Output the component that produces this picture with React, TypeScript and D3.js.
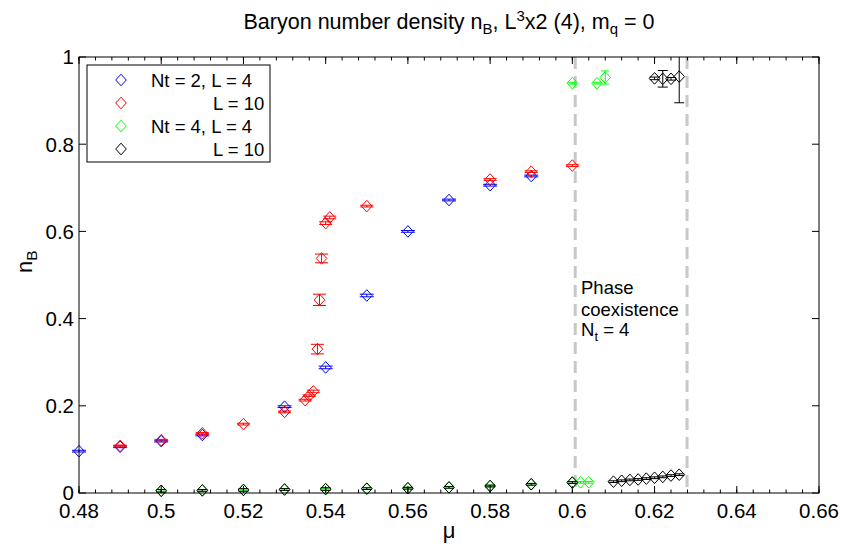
import React from 'react';
import * as d3 from 'd3';

// ---- data ----
const muBlue = [0.48, 0.49, 0.5, 0.51, 0.53, 0.54, 0.55, 0.56, 0.57, 0.58, 0.59];
const nBlue = [0.096, 0.106, 0.119, 0.133, 0.198, 0.288, 0.453, 0.6, 0.672, 0.706, 0.727];
const eBlue = [0.002, 0.002, 0.002, 0.002, 0.002, 0.003, 0.003, 0.002, 0.002, 0.002, 0.002];

const muRed = [0.49, 0.5, 0.51, 0.52, 0.53, 0.535, 0.536, 0.537, 0.538, 0.5385, 0.539, 0.54, 0.541, 0.55, 0.58, 0.59, 0.6];
const nRed = [0.108, 0.121, 0.137, 0.158, 0.186, 0.213, 0.223, 0.233, 0.33, 0.443, 0.538, 0.619, 0.632, 0.658, 0.719, 0.737, 0.751];
const eRed = [0.002, 0.002, 0.002, 0.002, 0.002, 0.002, 0.002, 0.003, 0.011, 0.013, 0.01, 0.003, 0.003, 0.002, 0.002, 0.002, 0.002];

const muGreen = [0.5, 0.51, 0.52, 0.53, 0.54, 0.55, 0.56, 0.57, 0.58, 0.59, 0.6, 0.602, 0.604, 0.6, 0.606, 0.608];
const nGreen = [0.005, 0.006, 0.007, 0.008, 0.009, 0.01, 0.011, 0.013, 0.016, 0.02, 0.024, 0.0245, 0.0245, 0.94, 0.94, 0.953];
const eGreen = [0.002, 0.002, 0.002, 0.002, 0.002, 0.002, 0.002, 0.002, 0.002, 0.002, 0.002, 0.002, 0.002, 0.002, 0.002, 0.015];

const muBlack = [0.5, 0.51, 0.52, 0.53, 0.54, 0.55, 0.56, 0.57, 0.58, 0.59, 0.6,
  0.61, 0.612, 0.614, 0.616, 0.618, 0.62, 0.622, 0.624, 0.626,
  0.62, 0.622, 0.624, 0.626];
const nBlack = [0.005, 0.006, 0.007, 0.008, 0.009, 0.01, 0.011, 0.013, 0.016, 0.02, 0.024,
  0.026, 0.028, 0.03, 0.031, 0.033, 0.035, 0.037, 0.04, 0.042,
  0.951, 0.95, 0.95, 0.955];
const eBlack = [0.003, 0.002, 0.003, 0.002, 0.003, 0.002, 0.002, 0.002, 0.002, 0.002, 0.002,
  0.002, 0.002, 0.002, 0.002, 0.002, 0.002, 0.002, 0.002, 0.002,
  0.003, 0.019, 0.003, 0.06];

const legendLabels = ['Nt = 2, L = 4', 'L = 10', 'Nt = 4, L = 4', 'L = 10'];
const xTickLabels = ['0.48', '0.5', '0.52', '0.54', '0.56', '0.58', '0.6', '0.62', '0.64', '0.66'];
const yTickLabels = ['0', '0.2', '0.4', '0.6', '0.8', '1'];
const coexistBounds = [0.6007, 0.6279];

const W = 842, H = 544;
const M = { left: 79, right: 819, top: 57, bottom: 493 };
const FONT = '"Liberation Sans", Arial, Helvetica, sans-serif';

export default function App() {
  const x = d3.scaleLinear().domain([0.48, 0.66]).range([M.left, M.right]);
  const y = d3.scaleLinear().domain([0, 1]).range([M.bottom, M.top]);

  const series = [
    { mu: muBlue, n: nBlue, e: eBlue, color: '#0000ff', cap: 7 },
    { mu: muRed, n: nRed, e: eRed, color: '#ff0000', cap: 6.5 },
    { mu: muGreen, n: nGreen, e: eGreen, color: '#00ff00', cap: 4 },
    { mu: muBlack, n: nBlack, e: eBlack, color: '#000000', cap: 5 },
  ];

  const dw = 5.3, dh = 5.8;
  const diamond = (cx: number, cy: number, w = dw, h = dh) =>
    `M${cx},${cy - h}L${cx + w},${cy}L${cx},${cy + h}L${cx - w},${cy}Z`;

  const majorX = xTickLabels.map((t) => +t);
  const minorX = d3.range(0, 46).map((i) => 0.48 + i * 0.004).filter((v) => v <= 0.6601);
  const majorY = yTickLabels.map((t) => +t);

  return (
    <svg width={W} height={H} style={{ position: 'fixed', left: 0, top: 0, background: '#fff' }}
      fontFamily={FONT}>
      <rect x={0} y={0} width={W} height={H} fill="#fff" />
      {/* title */}
      <text x={(M.left + M.right) / 2} y={29} fontSize={21.5} textAnchor="middle" fill="#000">
        Baryon number density n<tspan fontSize={15} dy={5}>B</tspan>
        <tspan dy={-5}>, L</tspan>
        <tspan fontSize={15} dy={-8}>3</tspan>
        <tspan dy={8}>x2 (4), m</tspan>
        <tspan fontSize={15} dy={5}>q</tspan>
        <tspan dy={-5}> = 0</tspan>
      </text>

      {/* dashed coexistence lines */}
      {coexistBounds.map((b, i) => (
        <line key={'d' + i} x1={x(b)} x2={x(b)} y1={y(1)} y2={y(0)} stroke="#c8c8c8"
          strokeWidth={3} strokeDasharray="12,7" />
      ))}

      {/* data */}
      {series.map((s, si) => (
        <g key={'s' + si} stroke={s.color} fill="none" strokeWidth={1}>
          {s.mu.map((m, i) => {
            const cx = x(m), cy = y(s.n[i]);
            const y1 = Math.max(y(s.n[i] + s.e[i]), M.top);
            const y2 = y(s.n[i] - s.e[i]);
            return (
              <g key={i}>
                <line x1={cx} x2={cx} y1={y1} y2={y2} />
                {y(s.n[i] + s.e[i]) >= M.top && (
                  <line x1={cx - s.cap} x2={cx + s.cap} y1={y1} y2={y1} />
                )}
                <line x1={cx - s.cap} x2={cx + s.cap} y1={y2} y2={y2} />
                <path d={diamond(cx, cy)} />
              </g>
            );
          })}
        </g>
      ))}

      {/* axes box */}
      <rect x={M.left} y={M.top} width={M.right - M.left} height={M.bottom - M.top}
        fill="none" stroke="#000" strokeWidth={1} />
      {/* x ticks */}
      <g stroke="#000" strokeWidth={1}>
        {minorX.map((v, i) => (
          <g key={'mx' + i}>
            <line x1={x(v)} x2={x(v)} y1={M.bottom} y2={M.bottom - 3.5} />
            <line x1={x(v)} x2={x(v)} y1={M.top} y2={M.top + 3.5} />
          </g>
        ))}
        {majorX.map((v, i) => (
          <g key={'Mx' + i}>
            <line x1={x(v)} x2={x(v)} y1={M.bottom} y2={M.bottom - 7} />
            <line x1={x(v)} x2={x(v)} y1={M.top} y2={M.top + 7} />
          </g>
        ))}
        {majorY.map((v, i) => (
          <g key={'My' + i}>
            <line x1={M.left} x2={M.left + 7} y1={y(v)} y2={y(v)} />
            <line x1={M.right} x2={M.right - 7} y1={y(v)} y2={y(v)} />
          </g>
        ))}
      </g>
      {xTickLabels.map((t, i) => (
        <text key={'xl' + i} x={x(majorX[i])} y={518} fontSize={20.5} textAnchor="middle">{t}</text>
      ))}
      {yTickLabels.map((t, i) => (
        <text key={'yl' + i} x={74} y={y(majorY[i]) + 7.3} fontSize={20.5} textAnchor="end">{t}</text>
      ))}

      {/* axis labels */}
      <text x={(M.left + M.right) / 2} y={538} fontSize={22} textAnchor="middle">μ</text>
      <text transform={`translate(32,273) rotate(-90)`} fontSize={22} textAnchor="start">
        n<tspan fontSize={15.5} dy={5}>B</tspan>
      </text>

      {/* annotation */}
      <g fontSize={18.5}>
        <text x={581} y={294}>Phase</text>
        <text x={581} y={315.5}>coexistence</text>
        <text x={581} y={336}>N<tspan fontSize={13} dy={5}>t</tspan><tspan dy={-5}> = 4</tspan></text>
      </g>

      {/* legend */}
      <rect x={87} y={65} width={183} height={97} fill="#fff" stroke="#000" strokeWidth={1} />
      {series.map((s, i) => {
        const ry = 80 + i * 23;
        return (
          <g key={'lg' + i}>
            <path d={diamond(121, ry)} stroke={s.color} fill="none" strokeWidth={1} />
            <text x={i % 2 === 0 ? 151 : 213} y={ry + 6.5} fontSize={18.5}>{legendLabels[i]}</text>
          </g>
        );
      })}
    </svg>
  );
}
